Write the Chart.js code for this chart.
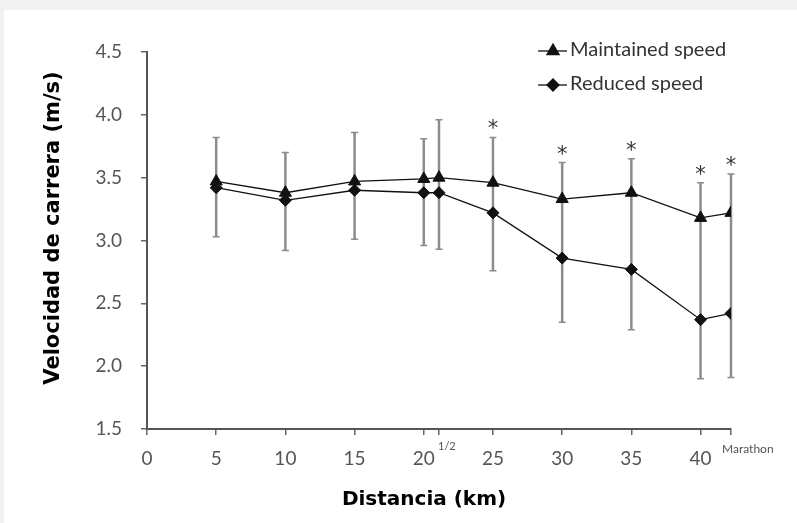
<!DOCTYPE html>
<html>
<head>
<meta charset="utf-8">
<script src="https://cdn.jsdelivr.net/npm/chart.js@4.4.1/dist/chart.umd.min.js"></script>
<style>
  html, body { margin: 0; padding: 0; background: #f2f2f2; }
  #wrap { position: absolute; left: 4px; top: 10px; width: 793px; height: 513px; background: #fff; }
</style>
</head>
<body>
<div id="wrap"><canvas id="c_chart" width="793" height="513"></canvas></div>
<script>
// distances (km), 21.1 = half marathon, 42.2 = marathon
const distances = [5, 10, 15, 20, 21.1, 25, 30, 35, 40, 42.2];
const maintainedSpeed = [3.47, 3.38, 3.47, 3.49, 3.50, 3.46, 3.33, 3.38, 3.18, 3.22];
const reducedSpeed = [3.42, 3.32, 3.40, 3.38, 3.38, 3.22, 2.86, 2.77, 2.37, 2.42];
// error bars: up for maintained, down for reduced
const maintainedSD = [0.35, 0.32, 0.39, 0.32, 0.46, 0.36, 0.29, 0.27, 0.28, 0.31];
const reducedSD = [0.39, 0.40, 0.39, 0.42, 0.45, 0.46, 0.51, 0.48, 0.47, 0.51];
const significant = [false, false, false, false, false, true, true, true, true, true];
const xTickValues = [0, 5, 10, 15, 20, 21.1, 25, 30, 35, 40, 42.2];
const yTickLabels = ['1.5', '2.0', '2.5', '3.0', '3.5', '4.0', '4.5'];

const OX = 4, OY = 10; // canvas offset inside the page

function toPoints(vals) {
  return distances.map((d, i) => ({ x: d, y: vals[i] }));
}

const errorBarPlugin = {
  id: 'errorBars',
  beforeDatasetsDraw(chart) {
    const ctx = chart.ctx;
    const xs = chart.scales.x, ys = chart.scales.y;
    ctx.save();
    ctx.strokeStyle = '#8c8c8c';
    distances.forEach((d, i) => {
      let px = xs.getPixelForValue(d);
      let yTop = ys.getPixelForValue(maintainedSpeed[i] + maintainedSD[i]);
      let yBot = ys.getPixelForValue(reducedSpeed[i] - reducedSD[i]);
      ctx.lineWidth = 2.5;
      ctx.beginPath();
      ctx.moveTo(px, yTop);
      ctx.lineTo(px, yBot);
      ctx.stroke();
      ctx.lineWidth = 1.5;
      ctx.beginPath();
      ctx.moveTo(px - 3.5, yTop);
      ctx.lineTo(px + 3.5, yTop);
      ctx.moveTo(px - 3.5, yBot);
      ctx.lineTo(px + 3.5, yBot);
      ctx.stroke();
    });
    ctx.restore();
  },
  afterDraw(chart) {
    const ctx = chart.ctx;
    const xs = chart.scales.x, ys = chart.scales.y;
    ctx.save();

    // asterisks
    ctx.fillStyle = '#333';
    ctx.font = '21px "DejaVu Sans"';
    ctx.textAlign = 'center';
    ctx.textBaseline = 'alphabetic';
    distances.forEach((d, i) => {
      if (!significant[i]) return;
      let px = xs.getPixelForValue(d);
      let yTop = ys.getPixelForValue(maintainedSpeed[i] + maintainedSD[i]);
      ctx.fillText('*', px, yTop - 2);
    });

    // extra x labels
    ctx.fillStyle = '#555';
    ctx.textAlign = 'left';
    ctx.textBaseline = 'middle';
    ctx.font = '11px Lato';
    ctx.fillText('1/2', 438 - OX, 446 - OY);
    ctx.font = '12px Lato';
    ctx.fillText('Marathon', 722 - OX, 449 - OY);

    // axis titles
    ctx.fillStyle = '#000';
    ctx.font = 'bold 20px "DejaVu Sans"';
    ctx.textAlign = 'center';
    ctx.fillText('Distancia (km)', 424 - OX, 500 - OY);
    ctx.save();
    ctx.translate(54 - OX, 228 - OY);
    ctx.rotate(-Math.PI / 2);
    ctx.font = 'bold 21px "DejaVu Sans"';
    ctx.fillText('Velocidad de carrera (m/s)', 0, 0);
    ctx.restore();

    // legend
    const rows = [51, 85];
    chart.data.datasets.forEach((ds, i) => {
      let y = rows[i] - OY;
      ctx.strokeStyle = '#111';
      ctx.fillStyle = '#111';
      ctx.lineWidth = 1.3;
      ctx.beginPath();
      ctx.moveTo(538 - OX, y);
      ctx.lineTo(567 - OX, y);
      ctx.stroke();
      Chart.helpers.drawPoint(ctx, { pointStyle: ds.pointStyle, radius: ds.pointRadius, rotation: 0, borderWidth: 1 }, 553 - OX, y);
      ctx.fillStyle = '#333';
      ctx.font = '20px Lato';
      ctx.textAlign = 'left';
      ctx.textBaseline = 'middle';
      ctx.fillText(ds.label, 570 - OX, y - 1);
    });
    ctx.restore();
  }
};

const ctx = document.getElementById('c_chart').getContext('2d');
new Chart(ctx, {
  type: 'line',
  data: {
    datasets: [{
      label: 'Maintained speed',
      data: toPoints(maintainedSpeed),
      borderColor: '#111',
      backgroundColor: '#111',
      borderWidth: 1.3,
      pointStyle: 'triangle',
      pointRadius: 7,
      pointBorderWidth: 1,
      tension: 0
    }, {
      label: 'Reduced speed',
      data: toPoints(reducedSpeed),
      borderColor: '#111',
      backgroundColor: '#111',
      borderWidth: 1.3,
      pointStyle: 'rectRot',
      pointRadius: 6,
      pointBorderWidth: 1,
      tension: 0
    }]
  },
  options: {
    responsive: false,
    animation: false,
    layout: { padding: { left: 0, top: 52 - OY, right: 793 - (731 - OX), bottom: 0 } },
    plugins: { legend: { display: false }, tooltip: { enabled: false } },
    scales: {
      x: {
        type: 'linear',
        min: 0,
        max: 42.2,
        afterBuildTicks: (axis) => { axis.ticks = xTickValues.map(v => ({ value: v })); },
        afterFit: (axis) => { axis.height = 513 - (429 - OY); },
        ticks: {
          autoSkip: false,
          maxRotation: 0,
          padding: 12,
          color: '#555',
          font: { family: 'Lato', size: 19 },
          callback: (v) => (v % 5 === 0 ? String(v) : '')
        },
        grid: { display: true, drawOnChartArea: false, drawTicks: true, tickLength: 6, color: '#666', lineWidth: 1.5 },
        border: { display: true, color: '#555', width: 2 }
      },
      y: {
        min: 1.5,
        max: 4.5,
        afterBuildTicks: (axis) => { axis.ticks = yTickLabels.map(v => ({ value: parseFloat(v) })); },
        afterFit: (axis) => { axis.width = 147 - OX; },
        ticks: {
          padding: 19,
          color: '#555',
          font: { family: 'Lato', size: 19 },
          callback: (v) => v.toFixed(1)
        },
        grid: { display: true, drawOnChartArea: false, drawTicks: true, tickLength: 6, color: '#666', lineWidth: 1.5 },
        border: { display: true, color: '#555', width: 2 }
      }
    }
  },
  plugins: [errorBarPlugin]
});
</script>
</body>
</html>
